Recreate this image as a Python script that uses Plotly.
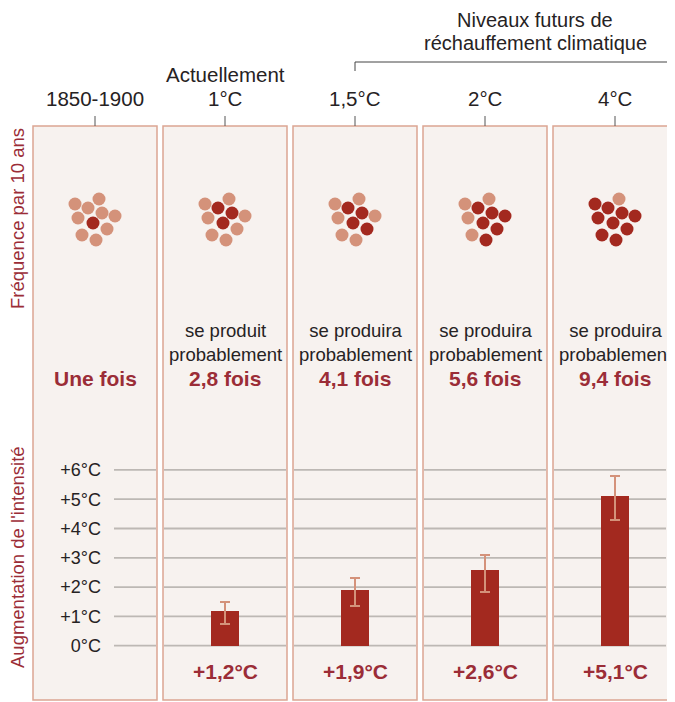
import plotly.graph_objects as go

# ---- data ----
periods = ["1850-1900", "1°C", "1,5°C", "2°C", "4°C"]
period_notes = ["", "Actuellement", "", "", ""]
freq_text = ["Une fois", "2,8 fois", "4,1 fois", "5,6 fois", "9,4 fois"]
freq_values = [1.0, 2.8, 4.1, 5.6, 9.4]
likely_text = ["", "se produit<br>probablement", "se produira<br>probablement",
               "se produira<br>probablement", "se produira<br>probablement"]
intensity = [1.2, 1.9, 2.6, 5.1]
err_low = [0.75, 1.35, 1.85, 4.3]
err_high = [1.5, 2.3, 3.1, 5.8]
intensity_labels = ["+1,2°C", "+1,9°C", "+2,6°C", "+5,1°C"]
tick_vals = [0, 1, 2, 3, 4, 5, 6]
tick_text = ["0°C", "+1°C", "+2°C", "+3°C", "+4°C", "+5°C", "+6°C"]
future_title = ["Niveaux futurs de", "réchauffement climatique"]

# ---- style / layout constants (screen pixels) ----
OFF = 8                      # page body margin
SW, SH = 675, 702            # screen size
W, H = SW - OFF, SH - OFF    # figure size
PX = 130.0                   # pixel spacing between panels
X0 = 95.0                    # pixel centre of first panel
Y0PX, YSCALE = 645.7, 29.3   # pixel of 0°C, pixels per °C
DARK = "#a3291f"
LIGHT = "#d4927a"
TXT_RED = "#9b2d37"
TXT = "#262223"
PANEL_BG = "#f7f2ef"
PANEL_LINE = "#dca592"
GRID = "#bdb8b4"
FONT = "Liberation Sans"

# dot cluster layout (pixel offsets) and order in which dots turn dark
dot_dx = [-20, 4, -7, -17, 7, 20, -2, 12, -13, 1]
dot_dy = [204, 199, 208, 218, 213, 216, 223, 229, 235, 240]
dark_order = [6, 2, 4, 7, 5, 9, 0, 3, 8, 1]

def xp(px):  # screen pixel -> x data
    return (px - X0) / PX

fig = go.Figure()

# dots
for i, f in enumerate(freq_values):
    n_dark = int(round(f))
    dark_set = set(dark_order[:n_dark])
    xs = [i + d / PX for d in dot_dx]
    cols = [DARK if k in dark_set else LIGHT for k in range(10)]
    fig.add_trace(go.Scatter(x=xs, y=dot_dy, mode="markers", yaxis="y2",
                             marker=dict(size=13, color=cols, line=dict(width=0)),
                             hoverinfo="skip", showlegend=False))

# bars
bx = list(range(1, 1 + len(intensity)))
fig.add_trace(go.Bar(
    x=bx, y=intensity, width=28 / PX, marker=dict(color=DARK, line=dict(width=0)),
    error_y=dict(type="data", symmetric=False,
                 array=[h - v for h, v in zip(err_high, intensity)],
                 arrayminus=[v - l for l, v in zip(err_low, intensity)],
                 color=LIGHT, thickness=2, width=5),
    showlegend=False, hoverinfo="skip"))

shapes = []
# panels
for i in range(len(periods)):
    x0 = i - 62 / PX
    x1 = i + 62 / PX if i < len(periods) - 1 else xp(SW + 5)
    shapes.append(dict(type="rect", xref="x", yref="y2", x0=x0, x1=x1, y0=126, y1=700,
                       fillcolor=PANEL_BG, line=dict(color=PANEL_LINE, width=1.5), layer="below"))
# gridlines
for i in range(len(periods)):
    gx0 = xp(114) if i == 0 else i - 61 / PX
    gx1 = i + 61 / PX if i < len(periods) - 1 else xp(666)
    for v in tick_vals:
        shapes.append(dict(type="line", xref="x", yref="y", x0=gx0, x1=gx1, y0=v, y1=v,
                           line=dict(color=GRID, width=1.8), layer="below"))
# top ticks
for i in range(len(periods)):
    shapes.append(dict(type="line", xref="x", yref="y2", x0=i, x1=i, y0=116, y1=126,
                       line=dict(color="#555", width=1)))
# bracket
shapes.append(dict(type="line", xref="x", yref="y2", x0=2, x1=xp(SW), y0=62, y1=62,
                   line=dict(color="#444", width=1)))
shapes.append(dict(type="line", xref="x", yref="y2", x0=2, x1=2, y0=62, y1=71,
                   line=dict(color="#444", width=1)))

ann = []
def a(text, x, y, size, color=TXT, bold=False, xref="x", yref="y2", **kw):
    t = f"<b>{text}</b>" if bold else text
    ann.append(dict(text=t, x=x, y=y, xref=xref, yref=yref, showarrow=False,
                    xanchor="center", yanchor="middle",
                    font=dict(family=FONT, size=size, color=color), **kw))

for i, p in enumerate(periods):
    a(p, i, 98, 20.5)
    if period_notes[i]:
        a(period_notes[i], i, 74, 20.5)
    a(freq_text[i], i, 378, 21, TXT_RED, bold=True)
    if likely_text[i]:
        a(likely_text[i], i, 342, 18.5)
for j, lab in enumerate(intensity_labels):
    a(lab, bx[j], 671, 21, TXT_RED, bold=True)
a(future_title[0], xp(535), 20, 20)
a(future_title[1], xp(535), 43, 20)
a("Fréquence par 10 ans", (17 - OFF) / W, 219, 18.5, TXT_RED, xref="paper", textangle=-90)
a("Augmentation de l'intensité", (17 - OFF) / W, 557, 18.5, TXT_RED, xref="paper", textangle=-90)

fig.update_layout(
    width=W, height=H, margin=dict(l=0, r=0, t=0, b=0),
    paper_bgcolor="white", plot_bgcolor="white",
    shapes=shapes, annotations=ann, bargap=0,
    xaxis=dict(range=[xp(OFF), xp(OFF + W)], visible=False, fixedrange=True),
    yaxis=dict(range=[(Y0PX - (OFF + H)) / YSCALE, (Y0PX - OFF) / YSCALE], domain=[0, 1],
               anchor="free", position=(101 - OFF) / W, side="left",
               tickvals=tick_vals, ticktext=tick_text, showgrid=False, zeroline=False,
               showline=False, ticks="", tickfont=dict(family=FONT, size=18, color=TXT)),
    yaxis2=dict(range=[OFF + H, OFF], domain=[0, 1], overlaying="y", visible=False),
)

fig.write_html("out.html")
